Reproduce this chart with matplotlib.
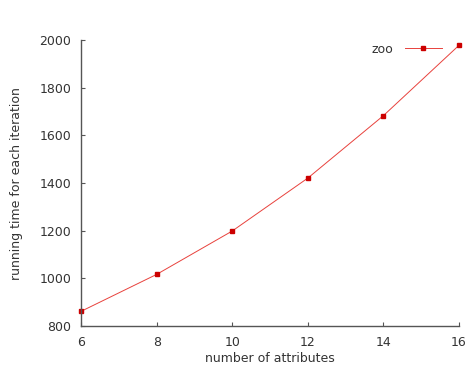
import matplotlib
matplotlib.use("Agg")
import matplotlib.pyplot as plt

attributes = [6, 8, 10, 12, 14, 16]
running_time = [862, 1017, 1199, 1421, 1683, 1978]
yticks = [800, 1000, 1200, 1400, 1600, 1800, 2000]
xticks = [6, 8, 10, 12, 14, 16]

fig = plt.figure(figsize=(4.66, 3.71), dpi=100)
ax = fig.add_axes([0.174, 0.121, 0.811, 0.771])

ax.plot(attributes, running_time, color='#e8413c', linewidth=0.7,
        marker='s', markersize=2.2, markerfacecolor='#cc0000',
        markeredgecolor='#cc0000', label='zoo', clip_on=False)

ax.set_xlim(6, 16)
ax.set_ylim(800, 2000)
ax.set_xticks(xticks)
ax.set_yticks(yticks)

for s in ['top', 'right']:
    ax.spines[s].set_visible(False)
for s in ['left', 'bottom']:
    ax.spines[s].set_color('#555555')
    ax.spines[s].set_linewidth(1.0)

ax.tick_params(direction='in', length=3, width=0.8, colors='#555555',
               labelcolor='#333333', labelsize=9, pad=7)

ax.set_xlabel('number of attributes', fontsize=9, color='#333333', labelpad=2)
ax.set_ylabel('running time for each iteration', fontsize=9, color='#333333', labelpad=12)

leg = ax.legend(loc='upper right', bbox_to_anchor=(0.985, 1.03), frameon=False,
                markerfirst=False, fontsize=9, handlelength=3.0, handletextpad=0.9)
for t in leg.get_texts():
    t.set_color('#333333')

fig.savefig('out.png', dpi=100)
